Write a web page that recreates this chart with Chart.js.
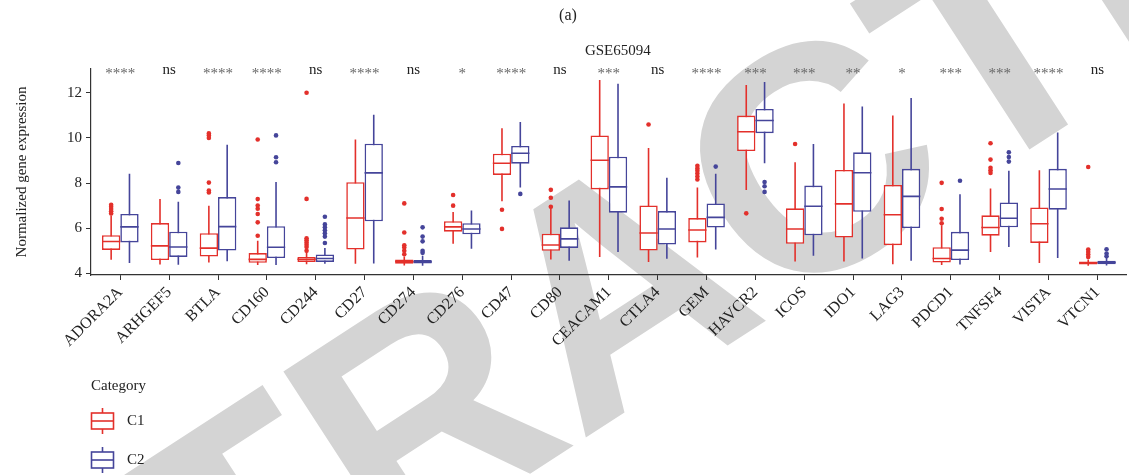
<!DOCTYPE html>
<html lang="en">
<head>
<meta charset="UTF-8" />
<title>GSE65094 boxplot</title>
<script src="https://cdn.jsdelivr.net/npm/chart.js"></script>
<style>
  html, body { margin: 0; padding: 0; background: #fff; }
  #wrap { width: 1129px; height: 475px; position: relative; }
</style>
</head>
<body>
<div id="wrap"><canvas id="boxChart"></canvas></div>
<script>
const genes = ['ADORA2A', 'ARHGEF5', 'BTLA', 'CD160', 'CD244', 'CD27', 'CD274', 'CD276', 'CD47', 'CD80', 'CEACAM1',
  'CTLA4', 'GEM', 'HAVCR2', 'ICOS', 'IDO1', 'LAG3', 'PDCD1', 'TNFSF4', 'VISTA', 'VTCN1'];
const signif = ['****', 'ns', '****', '****', 'ns', '****', 'ns', '*', '****', 'ns', '***',
  'ns', '****', '***', '***', '**', '*', '***', '***', '****', 'ns'];
const yTicks = [4, 6, 8, 10, 12];

// C1 (red)
const c1Low  = [4.60, 4.40, 4.48, 4.37, 4.41, 4.43, 4.35, 5.31, 7.19, 4.62, 4.73, 4.51, 4.70, 7.69, 4.53, 4.53, 4.41, 4.37, 4.95, 4.46, 4.34];
const c1Q1   = [5.04, 4.59, 4.75, 4.47, 4.51, 5.06, 4.43, 5.85, 8.36, 5.00, 7.72, 5.01, 5.37, 9.42, 5.31, 5.59, 5.25, 4.48, 5.67, 5.35, 4.40];
const c1Med  = [5.41, 5.22, 5.12, 4.62, 4.63, 6.45, 4.53, 6.06, 8.88, 5.26, 9.01, 5.79, 5.92, 10.27, 5.97, 7.08, 6.60, 4.66, 6.03, 6.20, 4.46];
const c1Q3   = [5.69, 6.23, 5.78, 4.90, 4.73, 8.04, 4.62, 6.31, 9.30, 5.76, 10.11, 7.01, 6.45, 10.99, 6.88, 8.58, 7.92, 5.16, 6.57, 6.92, 4.53];
const c1High = [6.56, 7.29, 7.00, 5.45, 4.90, 9.93, 4.75, 6.72, 10.43, 6.89, 12.56, 9.55, 7.80, 12.34, 8.92, 11.52, 10.99, 6.13, 7.76, 8.57, 4.62];
const c1Out = [
  [6.65, 6.75, 6.85, 6.95, 7.04], [], [7.58, 7.67, 8.02, 10.0, 10.11, 10.2],
  [5.67, 6.26, 6.63, 6.86, 7.01, 7.29, 9.93], [5.0, 5.17, 5.27, 5.37, 5.47, 5.56, 7.3, 12.0], [],
  [4.85, 5.0, 5.15, 5.25, 5.81, 7.1], [7.0, 7.47], [5.97, 6.82], [6.95, 7.35, 7.7], [],
  [10.59], [8.16, 8.29, 8.42, 8.54, 8.65, 8.77], [6.66], [9.73], [], [],
  [6.22, 6.42, 6.85, 8.01], [8.45, 8.57, 8.68, 9.04, 9.76], [], [4.73, 4.84, 4.95, 5.06, 8.71]
];

// C2 (blue)
const c2Low  = [4.46, 4.38, 4.54, 4.37, 4.43, 4.44, 4.34, 5.09, 7.80, 4.56, 4.95, 4.65, 5.06, 8.88, 4.78, 4.66, 4.56, 4.40, 5.17, 4.68, 4.35];
const c2Q1   = [5.37, 4.73, 5.01, 4.68, 4.51, 6.31, 4.44, 5.73, 8.86, 5.13, 6.69, 5.28, 6.03, 10.21, 5.69, 6.73, 6.01, 4.59, 6.04, 6.82, 4.41];
const c2Med  = [6.06, 5.17, 6.07, 5.16, 4.66, 8.45, 4.51, 5.97, 9.32, 5.53, 7.83, 5.97, 6.48, 10.77, 6.97, 8.46, 7.41, 5.03, 6.44, 7.74, 4.48];
const c2Q3   = [6.63, 5.85, 7.38, 6.09, 4.84, 9.74, 4.59, 6.22, 9.64, 6.04, 9.17, 6.76, 7.10, 11.28, 7.89, 9.36, 8.63, 5.84, 7.14, 8.63, 4.56];
const c2High = [8.41, 7.17, 9.70, 8.05, 5.13, 11.02, 4.78, 6.79, 10.70, 7.23, 12.40, 8.24, 8.41, 12.47, 9.73, 11.39, 11.77, 7.51, 8.55, 10.24, 4.68];
const c2Out = [
  [], [7.61, 7.8, 8.89], [], [8.92, 9.14, 10.11], [5.35, 5.63, 5.78, 5.91, 6.04, 6.17, 6.51], [],
  [4.91, 5.0, 5.42, 5.63, 6.04], [], [7.52], [], [],
  [], [8.73], [7.61, 7.86, 8.05], [], [], [],
  [8.1], [8.95, 9.15, 9.36], [], [4.76, 4.88, 5.07]
];

const RED = '#e3302b';
const BLUE = '#45459a';
const FONT = '"Liberation Serif", "DejaVu Serif", serif';
const DODGE = 0.1875;   // half of ggplot dodge width 0.75
const MED_HALF = 0.035; // half thickness of the median line, in y units

function range(lo, hi) {
  return genes.map((g, i) => ({ x: i + 1, y: [lo[i], hi[i]] }));
}
function outPoints(list, side) {
  const pts = [];
  list.forEach((vals, i) => vals.forEach(v => pts.push({ x: i + 1 + side * DODGE, y: v })));
  return pts;
}
function medRange(med) {
  return genes.map((g, i) => ({ x: i + 1, y: [med[i] - MED_HALF, med[i] + MED_HALF] }));
}

function groupSets(name, color, low, q1, med, q3, high, outs, side) {
  const common = { stack: name, categoryPercentage: 0.75, barPercentage: 1, borderSkipped: false };
  return [
    { ...common, label: name + ' median', data: medRange(med), backgroundColor: color, borderWidth: 0, order: 1 },
    { ...common, label: name, data: range(q1, q3), backgroundColor: '#ffffff', borderColor: color, borderWidth: 1.6, order: 2 },
    { ...common, label: name + ' whisker', data: range(low, high), backgroundColor: color, borderWidth: 0, maxBarThickness: 1.6, order: 3 },
    { type: 'scatter', label: name + ' outliers', data: outPoints(outs, side), backgroundColor: color,
      borderWidth: 0, pointRadius: 2.3, pointHoverRadius: 2.3, order: 0 }
  ];
}

// big grey watermark behind everything
const watermark = {
  id: 'watermark',
  beforeDraw(chart) {
    const ctx = chart.ctx;
    ctx.save();
    ctx.translate(628, 305);
    ctx.rotate(-33 * Math.PI / 180);
    ctx.font = 'bold 320px "Liberation Sans", sans-serif';
    ctx.fillStyle = '#d4d4d4';
    ctx.textAlign = 'center';
    ctx.textBaseline = 'middle';
    ctx.fillText('RETRACTED', 0, 0);
    ctx.restore();
  }
};

// titles, significance marks and the legend
const annotations = {
  id: 'annotations',
  afterDraw(chart) {
    const { ctx, chartArea, scales } = chart;
    ctx.save();
    ctx.fillStyle = '#222';
    ctx.textAlign = 'center';
    ctx.textBaseline = 'middle';
    ctx.font = '16px ' + FONT;
    ctx.fillText('(a)', 568, 16);
    ctx.font = '15px ' + FONT;
    ctx.fillText('GSE65094', (chartArea.left + chartArea.right) / 2 + 9, 51);

    const yLab = scales.y.getPixelForValue(12.92);
    signif.forEach((s, i) => {
      const x = scales.x.getPixelForValue(i + 1);
      if (s === 'ns') {
        ctx.fillStyle = '#222';
        ctx.font = '15px ' + FONT;
        ctx.fillText(s, x, yLab - 2);
      } else {
        ctx.fillStyle = '#666';
        ctx.font = '15px ' + FONT;
        ctx.fillText(s, x, yLab + 2);
      }
    });

    // legend
    ctx.textAlign = 'left';
    ctx.fillStyle = '#222';
    ctx.font = '15px ' + FONT;
    ctx.fillText('Category', 91, 386);
    [['C1', RED, 421], ['C2', BLUE, 460]].forEach(([lab, col, cy]) => {
      ctx.strokeStyle = col;
      ctx.lineWidth = 1.6;
      ctx.beginPath();
      ctx.moveTo(102.5, cy - 13); ctx.lineTo(102.5, cy - 8);
      ctx.moveTo(102.5, cy + 8); ctx.lineTo(102.5, cy + 13);
      ctx.stroke();
      ctx.strokeRect(91.5, cy - 8, 22, 16);
      ctx.beginPath();
      ctx.moveTo(91.5, cy); ctx.lineTo(113.5, cy);
      ctx.stroke();
      ctx.fillStyle = '#222';
      ctx.fillText(lab, 127, cy);
    });
    ctx.restore();
  }
};

const ctx = document.getElementById('boxChart').getContext('2d');
new Chart(ctx, {
  type: 'bar',
  data: {
    datasets: [
      ...groupSets('C1', RED, c1Low, c1Q1, c1Med, c1Q3, c1High, c1Out, -1),
      ...groupSets('C2', BLUE, c2Low, c2Q1, c2Med, c2Q3, c2High, c2Out, 1)
    ]
  },
  options: {
    responsive: true,
    maintainAspectRatio: false,
    animation: false,
    layout: { padding: { top: 69, left: 0, right: 0, bottom: 0 } },
    plugins: { legend: { display: false }, title: { display: false }, tooltip: { enabled: false } },
    scales: {
      x: {
        type: 'linear',
        offset: false,
        min: 0.4,
        max: 21.6,
        afterBuildTicks(scale) { scale.ticks = genes.map((g, i) => ({ value: i + 1 })); },
        afterFit(scale) { scale.height = 200; },
        grid: { display: true, offset: false, drawOnChartArea: false, drawTicks: true, tickLength: 5, color: '#333', lineWidth: 1 },
        border: { display: true, color: '#333', width: 1.2 },
        ticks: {
          autoSkip: false,
          minRotation: 45,
          maxRotation: 45,
          padding: 3,
          color: '#222',
          font: { family: FONT, size: 16 },
          callback: (v) => genes[v - 1]
        }
      },
      y: {
        stacked: false,
        min: 3.93,
        max: 13.05,
        afterBuildTicks(scale) { scale.ticks = yTicks.map(v => ({ value: v })); },
        afterFit(scale) { scale.width = 91; },
        grid: { display: true, drawOnChartArea: false, drawTicks: true, tickLength: 5, color: '#333', lineWidth: 1 },
        border: { display: true, color: '#333', width: 1.2 },
        ticks: { padding: 4, color: '#222', font: { family: FONT, size: 15 } },
        title: { display: true, text: 'Normalized gene expression', color: '#222',
          font: { family: FONT, size: 15 }, padding: { top: 13, bottom: 0 } }
      }
    }
  },
  plugins: [watermark, annotations]
});
</script>
</body>
</html>
